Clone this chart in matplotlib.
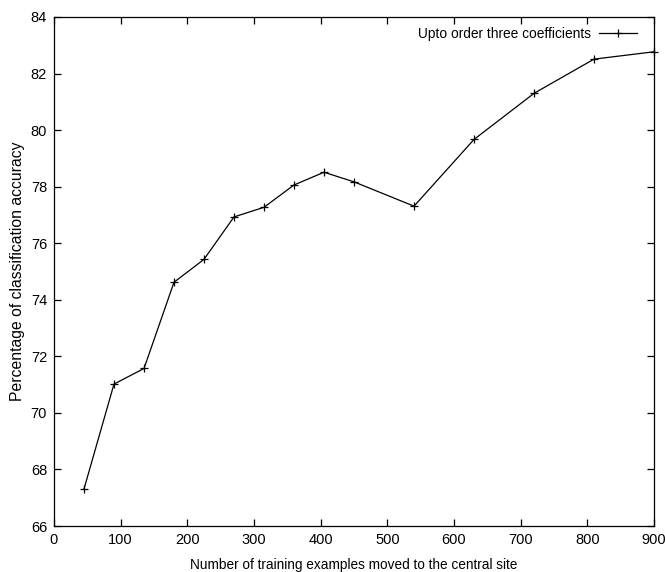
import matplotlib
matplotlib.use("Agg")
import matplotlib.pyplot as plt

x_vals = [45, 90, 135, 180, 225, 270, 315, 360, 405, 450, 540, 630, 720, 810, 900]
accuracy = [67.31, 71.02, 71.57, 74.62, 75.43, 76.93, 77.27, 78.06, 78.51, 78.17,
            77.31, 79.67, 81.30, 82.51, 82.77]
x_ticks = [0, 100, 200, 300, 400, 500, 600, 700, 800, 900]
y_ticks = [66, 68, 70, 72, 74, 76, 78, 80, 82, 84]
series_label = "Upto order three coefficients"

plt.rcParams['font.family'] = ['Liberation Sans', 'DejaVu Sans']

fig = plt.figure(figsize=(6.65, 5.72), dpi=100)
ax = fig.add_axes([0.0812, 0.0804, 0.9023, 0.8899])
ax.plot(x_vals, accuracy, color='black', linewidth=0.9, marker='+',
        markersize=6, markeredgewidth=0.9, label=series_label, clip_on=False)
ax.set_xlim(0, 900)
ax.set_ylim(66, 84)
ax.set_xticks(x_ticks)
ax.set_yticks(y_ticks)
ax.tick_params(direction='in', top=True, right=True, length=5, width=0.9,
               labelsize=10.5, pad=5)
for s in ax.spines.values():
    s.set_linewidth(0.9)
ax.set_xlabel("Number of training examples moved to the central site",
              fontsize=9.8, labelpad=8)
ax.set_ylabel("Percentage of classification accuracy", fontsize=11.3, labelpad=4)
leg = ax.legend(loc='upper right', bbox_to_anchor=(0.987, 1.0), frameon=False,
                markerfirst=False, fontsize=9.9,
                handlelength=2.7, borderaxespad=0.3, handletextpad=0.6)
fig.savefig("out.png", dpi=100)
